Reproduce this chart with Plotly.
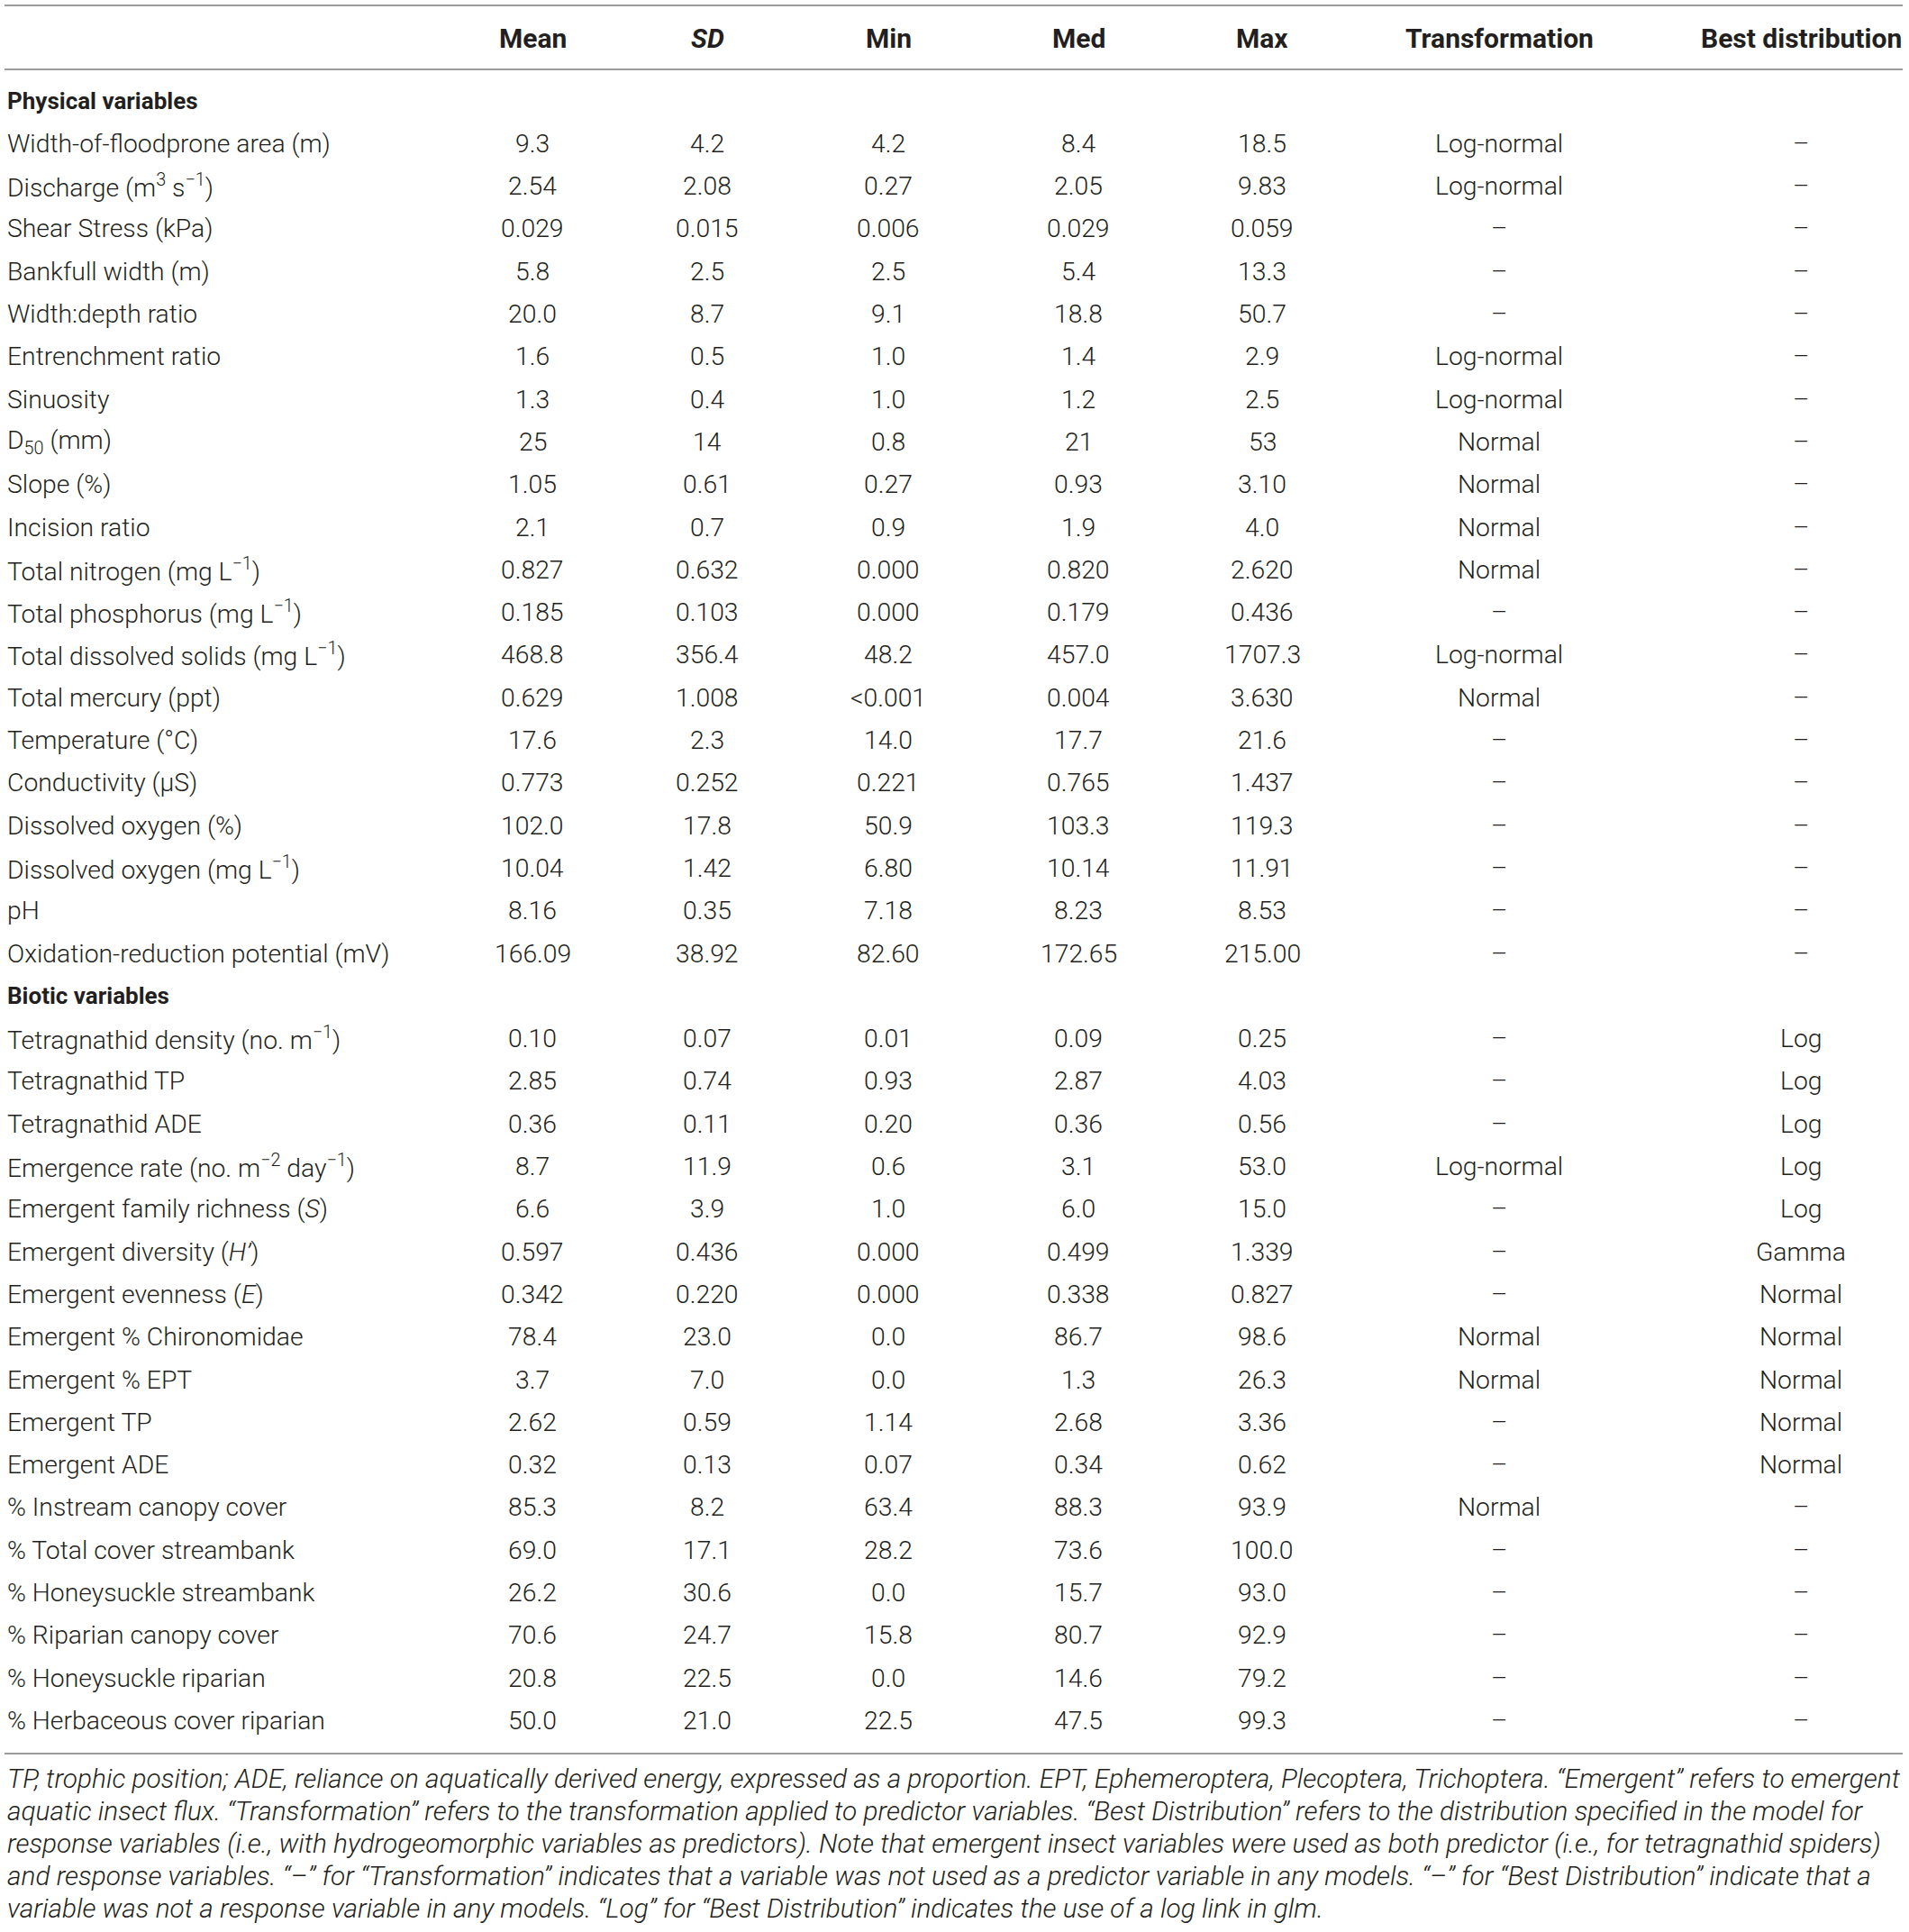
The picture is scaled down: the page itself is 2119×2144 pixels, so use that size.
import plotly.graph_objects as go

# ---------------- data ----------------
columns = ["Mean", "<i>SD</i>", "Min", "Med", "Max", "Transformation", "Best distribution"]

physical_labels = [
    "Width-of-floodprone area (m)",
    "Discharge (m<sup>3</sup> s<sup>−1</sup>)",
    "Shear Stress (kPa)",
    "Bankfull width (m)",
    "Width:depth ratio",
    "Entrenchment ratio",
    "Sinuosity",
    "D<sub>50</sub> (mm)",
    "Slope (%)",
    "Incision ratio",
    "Total nitrogen (mg L<sup>−1</sup>)",
    "Total phosphorus (mg L<sup>−1</sup>)",
    "Total dissolved solids (mg L<sup>−1</sup>)",
    "Total mercury (ppt)",
    "Temperature (°C)",
    "Conductivity (μS)",
    "Dissolved oxygen (%)",
    "Dissolved oxygen (mg L<sup>−1</sup>)",
    "pH",
    "Oxidation-reduction potential (mV)",
]
physical_mean = ["9.3", "2.54", "0.029", "5.8", "20.0", "1.6", "1.3", "25", "1.05", "2.1",
                 "0.827", "0.185", "468.8", "0.629", "17.6", "0.773", "102.0", "10.04", "8.16", "166.09"]
physical_sd = ["4.2", "2.08", "0.015", "2.5", "8.7", "0.5", "0.4", "14", "0.61", "0.7",
               "0.632", "0.103", "356.4", "1.008", "2.3", "0.252", "17.8", "1.42", "0.35", "38.92"]
physical_min = ["4.2", "0.27", "0.006", "2.5", "9.1", "1.0", "1.0", "0.8", "0.27", "0.9",
                "0.000", "0.000", "48.2", "<0.001", "14.0", "0.221", "50.9", "6.80", "7.18", "82.60"]
physical_med = ["8.4", "2.05", "0.029", "5.4", "18.8", "1.4", "1.2", "21", "0.93", "1.9",
                "0.820", "0.179", "457.0", "0.004", "17.7", "0.765", "103.3", "10.14", "8.23", "172.65"]
physical_max = ["18.5", "9.83", "0.059", "13.3", "50.7", "2.9", "2.5", "53", "3.10", "4.0",
                "2.620", "0.436", "1707.3", "3.630", "21.6", "1.437", "119.3", "11.91", "8.53", "215.00"]
physical_trans = ["Log-normal", "Log-normal", "–", "–", "–", "Log-normal", "Log-normal", "Normal", "Normal", "Normal",
                  "Normal", "–", "Log-normal", "Normal", "–", "–", "–", "–", "–", "–"]
physical_best = ["–"] * 20

biotic_labels = [
    "Tetragnathid density (no. m<sup>−1</sup>)",
    "Tetragnathid TP",
    "Tetragnathid ADE",
    "Emergence rate (no. m<sup>−2</sup> day<sup>−1</sup>)",
    "Emergent family richness (<i>S</i>)",
    "Emergent diversity (<i>H’</i>)",
    "Emergent evenness (<i>E</i>)",
    "Emergent % Chironomidae",
    "Emergent % EPT",
    "Emergent TP",
    "Emergent ADE",
    "% Instream canopy cover",
    "% Total cover streambank",
    "% Honeysuckle streambank",
    "% Riparian canopy cover",
    "% Honeysuckle riparian",
    "% Herbaceous cover riparian",
]
biotic_mean = ["0.10", "2.85", "0.36", "8.7", "6.6", "0.597", "0.342", "78.4", "3.7", "2.62", "0.32",
               "85.3", "69.0", "26.2", "70.6", "20.8", "50.0"]
biotic_sd = ["0.07", "0.74", "0.11", "11.9", "3.9", "0.436", "0.220", "23.0", "7.0", "0.59", "0.13",
             "8.2", "17.1", "30.6", "24.7", "22.5", "21.0"]
biotic_min = ["0.01", "0.93", "0.20", "0.6", "1.0", "0.000", "0.000", "0.0", "0.0", "1.14", "0.07",
              "63.4", "28.2", "0.0", "15.8", "0.0", "22.5"]
biotic_med = ["0.09", "2.87", "0.36", "3.1", "6.0", "0.499", "0.338", "86.7", "1.3", "2.68", "0.34",
              "88.3", "73.6", "15.7", "80.7", "14.6", "47.5"]
biotic_max = ["0.25", "4.03", "0.56", "53.0", "15.0", "1.339", "0.827", "98.6", "26.3", "3.36", "0.62",
              "93.9", "100.0", "93.0", "92.9", "79.2", "99.3"]
biotic_trans = ["–", "–", "–", "Log-normal", "–", "–", "–", "Normal", "Normal", "–", "–",
                "Normal", "–", "–", "–", "–", "–"]
biotic_best = ["Log", "Log", "Log", "Log", "Log", "Gamma", "Normal", "Normal", "Normal", "Normal", "Normal",
               "–", "–", "–", "–", "–", "–"]

sections = ["Physical variables", "Biotic variables"]

footnote_lines = [
    "TP, trophic position; ADE, reliance on aquatically derived energy, expressed as a proportion. EPT, Ephemeroptera, Plecoptera, Trichoptera. “Emergent” refers to emergent",
    "aquatic insect flux. “Transformation” refers to the transformation applied to predictor variables. “Best Distribution” refers to the distribution specified in the model for",
    "response variables (i.e., with hydrogeomorphic variables as predictors). Note that emergent insect variables were used as both predictor (i.e., for tetragnathid spiders)",
    "and response variables. “–” for “Transformation” indicates that a variable was not used as a predictor variable in any models. “–” for “Best Distribution” indicate that a",
    "variable was not a response variable in any models. “Log” for “Best Distribution” indicates the use of a log link in glm.",
]

# ---------------- layout constants ----------------
W, H = 2119, 2144
col_x = [591, 785, 986, 1197, 1401, 1664, 1999]
label_x = 6
line_x0, line_x1 = 5, 2112
header_y = 42
row0_y = 112
row_h = 47.3
foot_y0 = 1973
foot_h = 36.2
top_line_y, head_line_y, bottom_line_y = 6, 77, 1946

TXT = "#231f20"
LINE = "#9b9b9b"
FONT = "Roboto"
FS_BODY = 28.3
FS_HEAD = 30
FS_SECTION = 26
FS_FOOT = 29.8

fig = go.Figure()
ann = []

def add(x, y, text, xanchor="center", bold=False, italic=False, size=FS_BODY):
    ann.append(dict(
        x=x, y=y, xref="x", yref="y", text=text, showarrow=False,
        xanchor=xanchor, yanchor="middle",
        font=dict(family=FONT, size=size, color=TXT,
                  weight=700 if bold else 300,
                  style="italic" if italic else "normal"),
    ))

# header
for cx, c in zip(col_x, columns):
    add(cx, header_y, c, bold=True, size=FS_HEAD)

# body rows
row = 0
blocks = [
    (sections[0], physical_labels, [physical_mean, physical_sd, physical_min, physical_med,
                                    physical_max, physical_trans, physical_best]),
    (sections[1], biotic_labels, [biotic_mean, biotic_sd, biotic_min, biotic_med,
                                  biotic_max, biotic_trans, biotic_best]),
]
for title, labels, cols in blocks:
    y = row0_y + row * row_h
    add(label_x, y, title, xanchor="left", bold=True, size=FS_SECTION)
    row += 1
    for i, lab in enumerate(labels):
        y = row0_y + row * row_h
        add(label_x, y, lab, xanchor="left")
        for cx, colvals in zip(col_x, cols):
            add(cx, y, colvals[i])
        row += 1

# footnote
for i, line in enumerate(footnote_lines):
    add(label_x, foot_y0 + i * foot_h, line, xanchor="left", italic=True, size=FS_FOOT)

shapes = []
for yl in (top_line_y, head_line_y, bottom_line_y):
    shapes.append(dict(type="line", xref="x", yref="y", x0=line_x0, x1=line_x1, y0=yl, y1=yl,
                       line=dict(color=LINE, width=2)))

fig.update_layout(
    width=W, height=H,
    margin=dict(l=0, r=0, t=0, b=0),
    paper_bgcolor="white", plot_bgcolor="white",
    xaxis=dict(range=[0, W], visible=False, fixedrange=True),
    yaxis=dict(range=[H, 0], visible=False, fixedrange=True),
    annotations=ann, shapes=shapes, showlegend=False,
)

fig.write_html(
    "out.html",
    config={"displayModeBar": False},
    post_script="document.body.style.margin='0';document.body.style.overflow='hidden';",
)
